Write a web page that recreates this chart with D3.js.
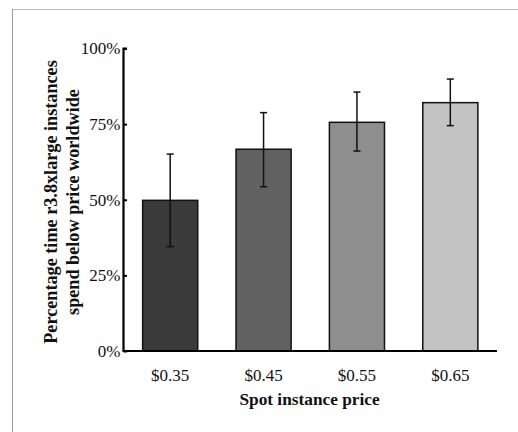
<!DOCTYPE html>
<html>
<head>
<meta charset="utf-8">
<script src="https://cdn.jsdelivr.net/npm/d3@7"></script>
<style>
  body { margin: 0; background: #fff; }
  text { font-family: "Liberation Serif", "Times New Roman", serif; }
</style>
</head>
<body>
<svg id="chart" width="518" height="432"></svg>
<script>
"use strict";

// DATA
const prices = ["$0.35", "$0.45", "$0.55", "$0.65"];
const meanPct = [49.8, 66.7, 75.6, 82.1];
const lowPct = [34.5, 54.3, 66.1, 74.5];
const highPct = [65.1, 78.8, 85.6, 89.9];
const barFills = ["#3a3a3a", "#616161", "#8e8e8e", "#c3c3c3"];
const yTicks = [0, 25, 50, 75, 100];

const rows = prices.map((p, i) => ({
	price: p,
	mean: meanPct[i],
	low: lowPct[i],
	high: highPct[i],
	fill: barFills[i],
}));

const svg = d3.select("#chart");

// grey frame at the top-left (the figure is cropped)
svg.append("line")
	.attr("x1", 12).attr("x2", 518).attr("y1", 9.5).attr("y2", 9.5)
	.attr("stroke", "#bbb").attr("stroke-width", 1);
svg.append("line")
	.attr("x1", 12.5).attr("x2", 12.5).attr("y1", 9).attr("y2", 432)
	.attr("stroke", "#999").attr("stroke-width", 1);

const x0 = 123.5, x1 = 497;
const x = d3.scaleBand()
	.domain(prices)
	.range([x0, x1])
	.paddingInner(0.41)
	.paddingOuter(0.205);

const y = d3.scaleLinear().domain([0, 100]).range([351, 48.5]);

// bars
svg.append("g")
	.selectAll("rect")
	.data(rows)
	.join("rect")
	.attr("x", (d) => x(d.price))
	.attr("y", (d) => y(d.mean))
	.attr("width", x.bandwidth())
	.attr("height", (d) => y(0) - y(d.mean))
	.attr("fill", (d) => d.fill)
	.attr("stroke", "#111")
	.attr("stroke-width", 1.5);

// error bars
const err = svg.append("g")
	.attr("stroke", "#111")
	.attr("stroke-width", 1.5)
	.selectAll("g")
	.data(rows)
	.join("g")
	.attr("transform", (d) => `translate(${x(d.price) + x.bandwidth() / 2},0)`);
err.append("line")
	.attr("y1", (d) => y(d.low))
	.attr("y2", (d) => y(d.high));
err.append("line")
	.attr("x1", -3.5).attr("x2", 3.5)
	.attr("y1", (d) => y(d.high)).attr("y2", (d) => y(d.high));
err.append("line")
	.attr("x1", -3.5).attr("x2", 3.5)
	.attr("y1", (d) => y(d.low)).attr("y2", (d) => y(d.low));

// y axis, ticks point inward
const yAxis = svg.append("g")
	.attr("transform", `translate(${x0},0)`)
	.call(
		d3.axisRight(y)
			.tickValues(yTicks)
			.tickSize(3.5)
			.tickFormat((d) => d + "%")
	);
yAxis.select(".domain").attr("stroke", "#000").attr("stroke-width", 2.2)
	.attr("d", `M3.5,${y(100)}H0V${y(0)}`);
yAxis.selectAll(".tick line").attr("stroke", "#000").attr("stroke-width", 2);
yAxis.selectAll(".tick text")
	.attr("x", -3)
	.attr("text-anchor", "end")
	.attr("dy", "0.32em")
	.attr("fill", "#111")
	.style("font-size", "17px")
	.style("font-family", "Liberation Serif, serif");

// x axis, no ticks
svg.append("line")
	.attr("x1", x0 - 1).attr("x2", x1)
	.attr("y1", y(0)).attr("y2", y(0))
	.attr("stroke", "#000").attr("stroke-width", 2);

svg.append("g")
	.selectAll("text")
	.data(prices)
	.join("text")
	.attr("x", (d) => x(d) + x.bandwidth() / 2)
	.attr("y", 381)
	.attr("text-anchor", "middle")
	.attr("fill", "#111")
	.style("font-size", "17px")
	.text((d) => d);

// axis titles
svg.append("text")
	.attr("x", 309.5)
	.attr("y", 405)
	.attr("text-anchor", "middle")
	.attr("font-weight", "bold")
	.attr("fill", "#111")
	.style("font-size", "17.3px")
	.text("Spot instance price");

const yTitle = svg.append("text")
	.attr("transform", "translate(0,202) rotate(-90)")
	.attr("text-anchor", "middle")
	.attr("font-weight", "bold")
	.attr("fill", "#111")
	.style("font-size", "18.2px");
yTitle.append("tspan").attr("x", 0).attr("y", 57)
	.text("Percentage time r3.8xlarge instances");
yTitle.append("tspan").attr("x", 0).attr("y", 79)
	.text("spend below price worldwide");
</script>
</body>
</html>
